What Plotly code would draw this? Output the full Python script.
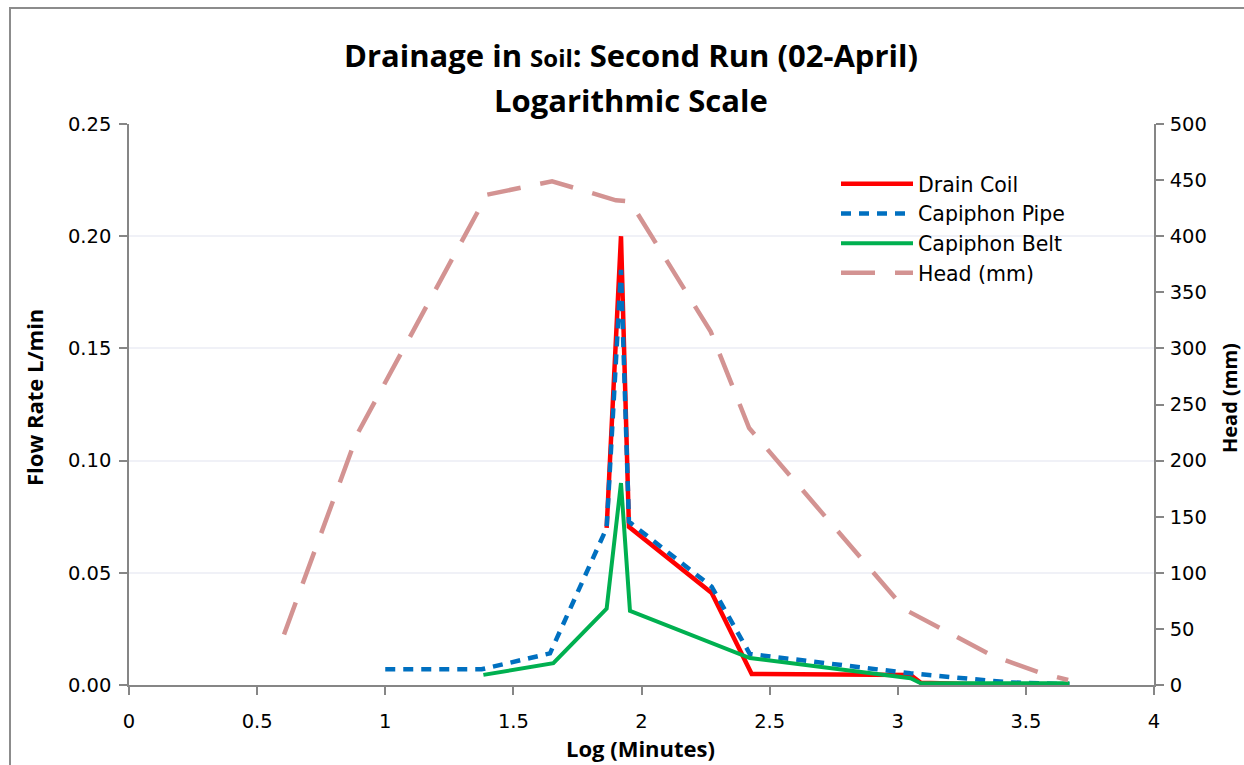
import plotly.graph_objects as go

# ---- data ----
coil_x = [1.864, 1.920, 1.951, 2.274, 2.430, 3.050, 3.090, 3.430]
coil_y = [0.070, 0.200, 0.0705, 0.041, 0.0049, 0.0045, 0.0010, 0.0000]

pipe_x = [1.000, 1.376, 1.643, 1.864, 1.920, 1.951, 2.274, 2.423, 3.050, 3.430, 3.670]
pipe_y = [0.0070, 0.0070, 0.0141, 0.0700, 0.1850, 0.0728, 0.0438, 0.0138, 0.0052, 0.0012, 0.0003]

belt_x = [1.383, 1.656, 1.864, 1.920, 1.955, 2.423, 3.050, 3.090, 3.670]
belt_y = [0.0045, 0.0097, 0.0340, 0.0900, 0.0330, 0.0120, 0.0030, 0.0008, 0.0008]

head_x = [0.605, 0.894, 1.397, 1.651, 1.900, 1.955, 2.270, 2.420, 3.030, 3.370, 3.555, 3.665]
head_y = [45, 225, 437, 449, 432, 431, 315, 229, 67, 26, 11, 4.5]

x_ticks = [0, 0.5, 1, 1.5, 2, 2.5, 3, 3.5, 4]
x_tick_text = ["0", "0.5", "1", "1.5", "2", "2.5", "3", "3.5", "4"]
y_ticks = [0, 0.05, 0.10, 0.15, 0.20, 0.25]
y_tick_text = ["0.00", "0.05", "0.10", "0.15", "0.20", "0.25"]
h_ticks = list(range(0, 501, 50))

TICK_FONT = dict(family="DejaVu Sans", size=19.5, color="#000000")
AXIS_COL = "#868686"

fig = go.Figure()
fig.add_trace(go.Scatter(x=coil_x, y=coil_y, name="Drain Coil", mode="lines",
                         line=dict(color="#FF0000", width=4.5)))
fig.add_trace(go.Scatter(x=pipe_x, y=pipe_y, name="Capiphon Pipe", mode="lines",
                         line=dict(color="#0070C0", width=4.5, dash="10px,8px")))
fig.add_trace(go.Scatter(x=belt_x, y=belt_y, name="Capiphon Belt", mode="lines",
                         line=dict(color="#00B050", width=4)))
fig.add_trace(go.Scatter(x=head_x, y=head_y, name="Head (mm)", mode="lines", yaxis="y2",
                         line=dict(color="#D39392", width=4.5, dash="34px,20px")))

fig.update_layout(
    width=1244, height=765,
    margin=dict(l=129, r=90, t=124, b=80),
    paper_bgcolor="white", plot_bgcolor="white",
    font=dict(family="Open Sans", color="#000000"),
    title=dict(
        text="Drainage in <span style='font-size:24px'>Soil</span>: Second Run (02-April)",
        x=631 / 1244, xanchor="center", xref="container",
        y=1 - 56 / 765, yanchor="middle", yref="container",
        font=dict(family="Open Sans", size=31, color="#000000", weight="bold"),
    ),
    xaxis=dict(range=[0, 4], tickvals=x_ticks, ticktext=x_tick_text,
               showgrid=False, zeroline=False, showline=True, linecolor=AXIS_COL, linewidth=1.5,
               ticks="outside", ticklen=8, tickcolor=AXIS_COL, tickwidth=1.5,
               ticklabelstandoff=10, tickfont=TICK_FONT),
    yaxis=dict(range=[0, 0.25], tickvals=y_ticks, ticktext=y_tick_text,
               showgrid=True, gridcolor="#F0F1F7", gridwidth=1.5, zeroline=False,
               showline=True, linecolor=AXIS_COL, linewidth=1.5,
               ticks="outside", ticklen=8, tickcolor=AXIS_COL, tickwidth=1.5,
               ticklabelstandoff=4, tickfont=TICK_FONT),
    yaxis2=dict(range=[0, 500], tickvals=h_ticks, overlaying="y", side="right",
                showgrid=False, zeroline=False, showline=True, linecolor=AXIS_COL, linewidth=1.5,
                ticks="outside", ticklen=8, tickcolor=AXIS_COL, tickwidth=1.5,
                ticklabelstandoff=2, tickfont=TICK_FONT),
    legend=dict(x=(836 - 129) / 1025, y=(685 - 164) / 561, xanchor="left", yanchor="top",
                bgcolor="rgba(0,0,0,0)", font=dict(family="DejaVu Sans", size=20.5, color="#000000"),
                itemwidth=72, tracegroupgap=0),
    showlegend=True,
)

# second title line
fig.add_annotation(text="<b>Logarithmic Scale</b>", xref="paper", yref="paper",
                   x=(631 - 129) / 1025, y=(685 - 100) / 561, showarrow=False,
                   xanchor="center", yanchor="middle",
                   font=dict(family="Open Sans", size=31, color="#000000"))

# axis titles
fig.add_annotation(text="<b>Log (Minutes)</b>", xref="paper", yref="paper",
                   x=(640 - 129) / 1025, y=(685 - 748) / 561, showarrow=False,
                   xanchor="center", yanchor="middle",
                   font=dict(family="Open Sans", size=22, color="#000000"))
fig.add_annotation(text="<b>Flow Rate L/min</b>", xref="paper", yref="paper",
                   x=(34 - 129) / 1025, y=(685 - 398) / 561, showarrow=False, textangle=-90,
                   xanchor="center", yanchor="middle",
                   font=dict(family="Open Sans", size=22, color="#000000"))
fig.add_annotation(text="<b>Head (mm)</b>", xref="paper", yref="paper",
                   x=(1229 - 129) / 1025, y=(685 - 398) / 561, showarrow=False, textangle=-90,
                   xanchor="center", yanchor="middle",
                   font=dict(family="Open Sans", size=20, color="#000000"))

# chart frame
fig.add_shape(type="rect", xref="paper", yref="paper",
              x0=(10 - 129) / 1025, x1=1.6, y0=-0.6, y1=(685 - 8) / 561,
              line=dict(color="#8C8C8C", width=2), fillcolor="rgba(0,0,0,0)", layer="below")

fig.write_html("out.html", config={"displayModeBar": False},
               post_script="document.body.style.margin='0px';document.body.style.overflow='hidden';")
